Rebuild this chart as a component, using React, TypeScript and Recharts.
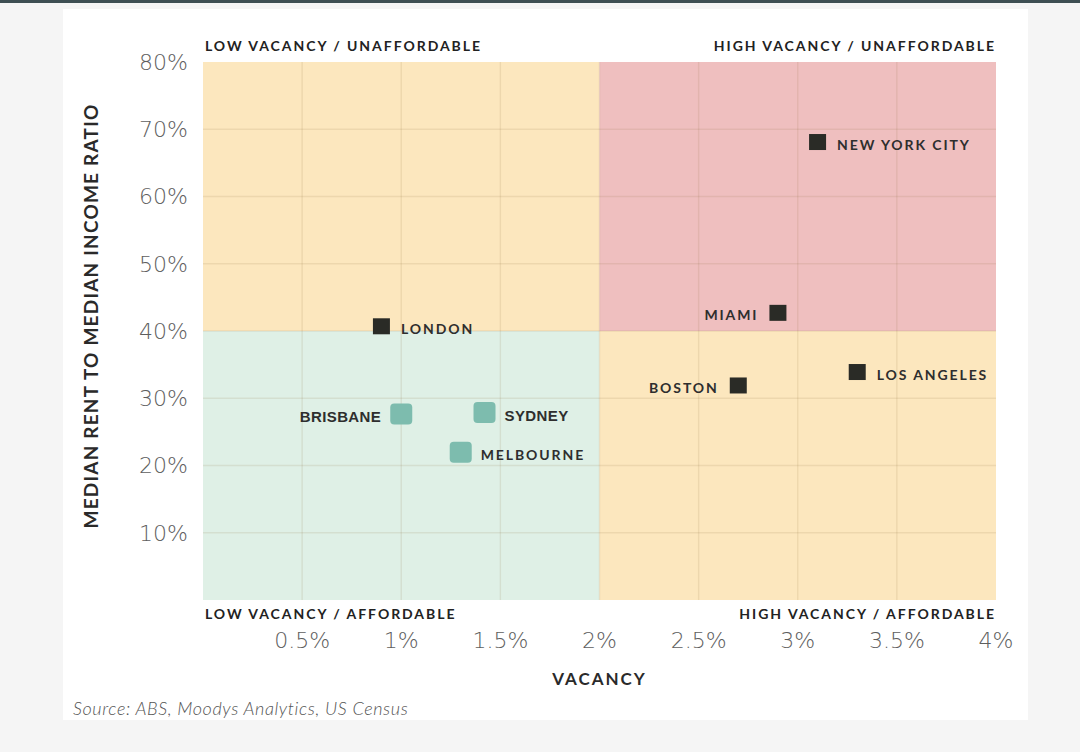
import React from "react";
import { ScatterChart, Scatter, XAxis, YAxis, ReferenceArea, ReferenceLine } from "recharts";

// city positions: vacancy (%) vs median rent / median income (%)
const cities = ["LONDON", "BRISBANE", "SYDNEY", "MELBOURNE", "NEW YORK CITY", "MIAMI", "BOSTON", "LOS ANGELES"];
const vacancy = [0.9, 1.0, 1.42, 1.3, 3.1, 2.9, 2.7, 3.3];
const rentRatio = [40.7, 27.6, 27.8, 21.9, 68.1, 42.7, 31.9, 33.9];
const australianCities = ["BRISBANE", "SYDNEY", "MELBOURNE"];

const xTicks = [0.5, 1, 1.5, 2, 2.5, 3, 3.5, 4];
const yTicks = [10, 20, 30, 40, 50, 60, 70, 80];
const vacancySplit = 2;
const ratioSplit = 40;

const quadrantNames = {
  topLeft: "LOW VACANCY / UNAFFORDABLE",
  topRight: "HIGH VACANCY / UNAFFORDABLE",
  bottomLeft: "LOW VACANCY / AFFORDABLE",
  bottomRight: "HIGH VACANCY / AFFORDABLE",
};

// labels drawn to the left of the marker
const leftLabelled = ["BRISBANE", "MIAMI", "BOSTON"];

const YELLOW = "#fce7be";
const PINK = "#efbfbf";
const GREEN = "#dff0e6";
const TEAL = "#7dbcae";
const DARK = "#2a2b26";
const GRID = "rgba(140,105,60,0.13)";

const data = cities.map((name, i) => ({ name, x: vacancy[i], y: rentRatio[i] }));
const ausData = data.filter((d) => australianCities.includes(d.name));
const otherData = data.filter((d) => !australianCities.includes(d.name));

const pct = (v: number) => `${v}%`;

function CityMark(props: any) {
  const { cx, cy, payload } = props;
  const aus = australianCities.includes(payload.name);
  const left = leftLabelled.includes(payload.name);
  const size = aus ? 22 : 17;
  const half = size / 2;
  const gap = aus ? 9 : 11;
  const arial = payload.name === "BRISBANE" || payload.name === "SYDNEY";
  return (
    <g>
      <rect
        x={cx - half}
        y={cy - half + (aus ? 0 : 0.5)}
        width={size}
        height={aus ? 21 : 16}
        rx={aus ? 4 : 0}
        fill={aus ? TEAL : DARK}
      />
      <text
        x={left ? cx - half - gap : cx + half + gap}
        y={cy + 2}
        textAnchor={left ? "end" : "start"}
        dominantBaseline="central"
        fontFamily={arial ? "Liberation Sans, Arial, sans-serif" : "Lato, sans-serif"}
        fontWeight={700}
        fontSize={arial ? 15 : 14}
        letterSpacing={arial ? 0.4 : 1.9}
        fill="#2e2e2e"
      >
        {payload.name}
      </text>
    </g>
  );
}

function quadLabel(text: string, where: "top" | "bottom", align: "start" | "end") {
  return {
    content: (p: any) => {
      const vb = p.viewBox;
      const x = align === "start" ? vb.x + 2 : vb.x + vb.width;
      const y = where === "top" ? vb.y - 17 : vb.y + vb.height + 13;
      return (
        <text
          x={x}
          y={y}
          textAnchor={align}
          dominantBaseline="central"
          fontFamily="Lato, sans-serif"
          fontWeight={700}
          fontSize={14}
          letterSpacing={1.95}
          fill="#222"
        >
          {text}
        </text>
      );
    },
  };
}

const tickStyle = { fontFamily: "DejaVu Sans, sans-serif", fontWeight: 200, fontSize: 22, fill: "#5e5e5e" };

export default function App() {
  return (
    <div style={{ position: "absolute", left: 0, top: 0, width: 1080, height: 752, background: "#f5f5f5", overflow: "hidden" }}>
      <div style={{ position: "absolute", left: 0, top: 0, width: 1080, height: 3, background: "#3e4f53" }} />
      <div style={{ position: "absolute", left: 63, top: 9, width: 965, height: 711, background: "#ffffff" }} />
      <div style={{ position: "absolute", left: 0, top: 0 }}>
        <ScatterChart width={1080} height={752} margin={{ top: 62, right: 84, bottom: 92, left: 80 }}>
          <ReferenceArea x1={0} x2={vacancySplit} y1={ratioSplit} y2={80} fill={YELLOW} fillOpacity={1} stroke="none"
            label={quadLabel(quadrantNames.topLeft, "top", "start")} />
          <ReferenceArea x1={vacancySplit} x2={4} y1={ratioSplit} y2={80} fill={PINK} fillOpacity={1} stroke="none"
            label={quadLabel(quadrantNames.topRight, "top", "end")} />
          <ReferenceArea x1={0} x2={vacancySplit} y1={0} y2={ratioSplit} fill={GREEN} fillOpacity={1} stroke="none"
            label={quadLabel(quadrantNames.bottomLeft, "bottom", "start")} />
          <ReferenceArea x1={vacancySplit} x2={4} y1={0} y2={ratioSplit} fill={YELLOW} fillOpacity={1} stroke="none"
            label={quadLabel(quadrantNames.bottomRight, "bottom", "end")} />
          {xTicks.slice(0, -1).map((v) => (
            <ReferenceLine key={`gx${v}`} x={v} stroke={GRID} strokeWidth={1.4} />
          ))}
          {yTicks.slice(0, -1).map((v) => (
            <ReferenceLine key={`gy${v}`} y={v} stroke={GRID} strokeWidth={1.4} />
          ))}
          <XAxis
            type="number"
            dataKey="x"
            domain={[0, 4]}
            ticks={xTicks}
            tickFormatter={pct}
            axisLine={false}
            tickLine={false}
            tickMargin={26}
            height={60}
            tick={tickStyle}
            label={{
              value: "VACANCY",
              position: "bottom",
              offset: 13,
              style: { fontFamily: "Lato, sans-serif", fontWeight: 700, fontSize: 17, letterSpacing: 2, fill: "#2a2a2a" },
            }}
          />
          <YAxis
            type="number"
            dataKey="y"
            domain={[0, 80]}
            ticks={yTicks}
            tickFormatter={pct}
            axisLine={false}
            tickLine={false}
            tickMargin={9}
            width={123}
            tick={tickStyle}
            label={{
              content: (p: any) => {
                const vb = p.viewBox;
                const cx = vb.x + 10;
                const cy = vb.y + vb.height / 2 - 15;
                return (
                  <text
                    x={cx}
                    y={cy}
                    transform={`rotate(-90 ${cx} ${cy})`}
                    textAnchor="middle"
                    dominantBaseline="central"
                    fontFamily="Lato, sans-serif"
                    fontWeight={700}
                    fontSize={19}
                    letterSpacing={1.2}
                    fill="#2a2a2a"
                  >
                    MEDIAN RENT TO MEDIAN INCOME RATIO
                  </text>
                );
              },
            }}
          />
          <Scatter data={otherData} isAnimationActive={false} shape={(p: any) => <CityMark {...p} />} />
          <Scatter data={ausData} isAnimationActive={false} shape={(p: any) => <CityMark {...p} />} />
        </ScatterChart>
      </div>
      <div
        style={{
          position: "absolute",
          left: 73,
          top: 697,
          fontFamily: "Lato, sans-serif",
          fontStyle: "italic",
          fontWeight: 300,
          fontSize: 18,
          letterSpacing: 0.6,
          color: "#555",
          whiteSpace: "nowrap",
        }}
      >
        Source: ABS, Moodys Analytics, US Census
      </div>
    </div>
  );
}
